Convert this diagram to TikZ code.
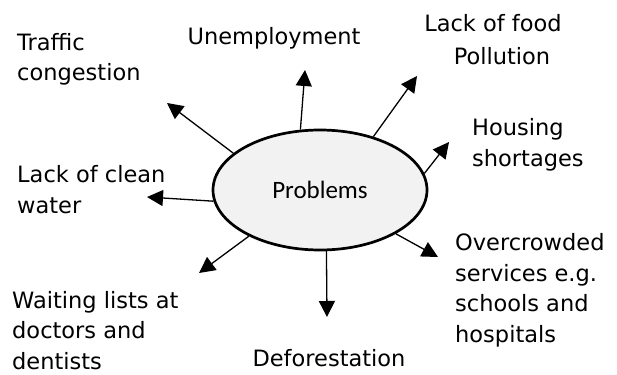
\documentclass[tikz,border=0pt]{standalone}
\usepackage{fontspec}
\setmainfont{DejaVu Sans}
\newfontfamily\probfont{Carlito}
\usetikzlibrary{arrows.meta,shapes.geometric}
\definecolor{ellfill}{HTML}{F2F2F2}
\tikzset{
  lbl/.style={inner sep=0pt, align=left, font=\fontsize{22.5}{30.5}\selectfont},
  lblc/.style={inner sep=0pt, align=center, font=\fontsize{22.5}{33}\selectfont},
  arr/.style={line width=1.3pt, -{Triangle[length=16pt,width=16pt]}},
  prob/.style={ellipse, draw, line width=2.7pt, fill=ellfill, minimum width=214pt, minimum height=120pt, inner sep=0pt, font=\probfont\fontsize{25}{30}\selectfont}
}
\begin{document}
\begin{tikzpicture}[x=1pt,y=-1pt]
\useasboundingbox (0,0) rectangle (617,374);
\node[prob] (p) at (320,190) {Problems};
% labels (anchor = baseline of the last line)
\node[lbl, anchor=base west] (traffic) at (17,81) {Traffic\\congestion};
\node[lblc, anchor=base] (unemp) at (274,45) {Unemployment};
\node[lblc, anchor=base] (food) at (493,65) {Lack of food\\\hspace*{18pt}Pollution};
\node[lbl, anchor=base west] (housing) at (472,166) {Housing\\shortages};
\node[lbl, anchor=base west] (water) at (17,213) {Lack of clean\\water};
\node[lbl, anchor=base west] (over) at (455,342) {Overcrowded\\services e.g.\\schools and\\hospitals};
\node[lbl, anchor=base west] (wait) at (12,369) {Waiting lists at\\doctors and\\dentists};
\node[lblc, anchor=base] (defor) at (329,366) {Deforestation};
% arrow tips
\coordinate (tTraffic) at (167,103);
\coordinate (tUnemp) at (305,70);
\coordinate (tFood) at (417,76);
\coordinate (tHousing) at (449,142);
\coordinate (tWater) at (147,197);
\coordinate (tWait) at (199,273);
\coordinate (tDefor) at (327,317);
\coordinate (tOver) at (438,257);
% connectors
\draw[arr] (p.157) -- (tTraffic);
\draw[arr] (p.108) -- (tUnemp);
\draw[arr] (p.45) -- (tFood);
\draw[arr] (p.9) -- (tHousing);
\draw[arr] (p.186) -- (tWater);
\draw[arr] (p.213) -- (tWait);
\draw[arr] (p.276) -- (tDefor);
\draw[arr] (p.330) -- (tOver);
\end{tikzpicture}
\end{document}
